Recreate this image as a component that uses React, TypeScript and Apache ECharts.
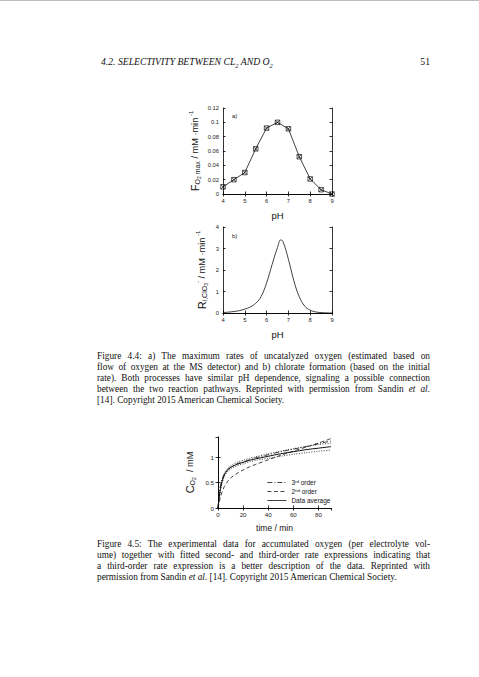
import React, { useEffect, useRef } from "react"
import * as echarts from "echarts"

// a) max O2 rate vs pH (square markers)
const phA = [4, 4.5, 5, 5.5, 6, 6.5, 7, 7.5, 8, 8.5, 9]
const o2MaxRate = [0.01, 0.02, 0.03, 0.063, 0.092, 0.1, 0.091, 0.052, 0.021, 0.006, 0.0]

// b) chlorate formation rate vs pH (smooth curve)
const phB = [4, 4.25, 4.5, 4.75, 5, 5.25, 5.5, 5.75, 6, 6.25, 6.5, 6.65, 6.75, 7, 7.25, 7.5, 7.75, 8, 8.25, 8.5, 9]
const chlorateRate = [0.02, 0.04, 0.07, 0.11, 0.18, 0.28, 0.45, 0.77, 1.4, 2.25, 3.05, 3.4, 3.33, 2.5, 1.5, 0.75, 0.32, 0.13, 0.05, 0.02, 0.0]

// c) accumulated oxygen vs time
const timeMin = [0, 1, 2, 3, 5, 7, 10, 15, 20, 25, 30, 40, 50, 60, 70, 80, 90]
const dataAverage = [0, 0.22, 0.38, 0.5, 0.65, 0.73, 0.8, 0.86, 0.9, 0.94, 0.97, 1.02, 1.07, 1.11, 1.15, 1.18, 1.21]
const dataUpper = [0, 0.24, 0.41, 0.53, 0.68, 0.76, 0.83, 0.9, 0.94, 0.98, 1.01, 1.07, 1.12, 1.17, 1.21, 1.25, 1.28]
const dataLower = [0, 0.2, 0.35, 0.47, 0.62, 0.7, 0.77, 0.83, 0.87, 0.91, 0.94, 0.98, 1.02, 1.06, 1.09, 1.12, 1.14]
const thirdOrder = [0, 0.3, 0.45, 0.55, 0.67, 0.74, 0.8, 0.87, 0.91, 0.95, 0.99, 1.05, 1.11, 1.16, 1.21, 1.27, 1.32]
const secondOrder = [0, 0.12, 0.22, 0.3, 0.42, 0.5, 0.59, 0.68, 0.75, 0.81, 0.86, 0.95, 1.04, 1.12, 1.2, 1.28, 1.37]

const legendNames = ["3rd order", "2nd order", "Data average"]

const caption44 = [
  "Figure 4.4: a) The maximum rates of uncatalyzed oxygen (estimated based on",
  "flow of oxygen at the MS detector) and b) chlorate formation (based on the initial",
  "rate). Both processes have similar pH dependence, signaling a possible connection",
  "between the two reaction pathways. Reprinted with permission from Sandin |et al.|",
  "[14]. Copyright 2015 American Chemical Society.",
]
const caption45 = [
  "Figure 4.5: The experimental data for accumulated oxygen (per electrolyte vol-",
  "ume) together with fitted second- and third-order rate expressions indicating that",
  "a third-order rate expression is a better description of the data.  Reprinted with",
  "permission from Sandin |et al.| [14]. Copyright 2015 American Chemical Society.",
]

const SANS = "Liberation Sans"
const SERIF = "Liberation Serif"
const BOX = "path://M0,0H10V10H0Z M0,0L10,10 M10,0L0,10"

const pairs = (xs: number[], ys: number[]) => xs.map((x, i) => [x, ys[i]])

const nameRich = {
  m: { fontSize: 11, lineHeight: 13, fontFamily: SANS, color: "#111" },
  n: { fontSize: 9.2, lineHeight: 13, fontFamily: SANS, color: "#111" },
  s: { fontSize: 7, lineHeight: 6, verticalAlign: "bottom", fontFamily: SANS, color: "#111" },
  ss: { fontSize: 5, lineHeight: 3, verticalAlign: "bottom", fontFamily: SANS, color: "#111" },
  sup: { fontSize: 6, lineHeight: 6, verticalAlign: "top", fontFamily: SANS, color: "#111" },
}

const label = { fontSize: 5.8, fontFamily: SANS, color: "#222", margin: 4 }
const line = { lineStyle: { color: "#000", width: 0.8 } }

function axisPair(grid: number, min: number, max: number, interval: number, extra: any = {}) {
  const main = {
    type: "value",
    gridIndex: grid,
    min,
    max,
    interval,
    axisLine: { show: true, ...line },
    axisTick: { show: true, inside: true, length: 2.5, ...line },
    splitLine: { show: false },
    axisLabel: { ...label },
    ...extra,
  }
  const mirror = {
    type: "value",
    gridIndex: grid,
    min,
    max,
    interval,
    axisLine: { show: true, ...line },
    axisTick: { show: true, inside: true, length: 2.5, ...line },
    splitLine: { show: false },
    axisLabel: { show: false },
  }
  return [main, mirror]
}

function Caption({ lines, top }: { lines: string[]; top: number }) {
  return (
    <div style={{ position: "absolute", left: 97, top, width: 333, fontFamily: SERIF, fontSize: 9.3, lineHeight: "11px", color: "#111" }}>
      {lines.map((l, i) => (
        <div
          key={i}
          style={{
            whiteSpace: "nowrap",
            textAlign: "justify",
            textAlignLast: i === lines.length - 1 ? "left" : "justify",
          }}
        >
          {l.split("|").map((part, j) => (j % 2 === 1 ? <i key={j}>{part}</i> : <span key={j}>{part}</span>))}
        </div>
      ))}
    </div>
  )
}

export default function App() {
  const ref = useRef<HTMLDivElement>(null)

  useEffect(() => {
    if (!ref.current) return
    const chart = echarts.init(ref.current, undefined, { renderer: "svg" })

    const phName = { name: "pH", nameLocation: "middle", nameGap: 16, nameTextStyle: { fontSize: 9.5, fontFamily: SANS, color: "#111" } }
    const xa = axisPair(0, 4, 9, 1, phName)
    const xb = axisPair(1, 4, 9, 1, phName)
    const xc = axisPair(2, 0, 90, 20, {
      name: "time / min",
      nameLocation: "middle",
      nameGap: 15,
      nameTextStyle: { fontSize: 8.5, fontFamily: SANS, color: "#111" },
      axisLabel: { ...label, fontSize: 6.2, margin: 3, showMaxLabel: false },
    })
    const ya = axisPair(0, 0, 0.12, 0.02, {
      name: "{m|F}{s|O}{ss|2}{s| max}{n| / mM ·min}{sup| -1}",
      nameLocation: "middle",
      nameRotate: 90,
      nameGap: 22,
      nameTextStyle: { rich: nameRich },
    })
    const yb = axisPair(1, 0, 4, 1, {
      name: "{m|R}{s|i,ClO}{ss|3}{sup|-}{n| / mM ·min}{sup| -1}",
      nameLocation: "middle",
      nameRotate: 90,
      nameGap: 15,
      nameTextStyle: { rich: nameRich },
    })
    const yc = axisPair(2, 0, 1.4, 0.5, {
      name: "{m|C}{s|O}{ss|2}{n|  / mM}",
      nameLocation: "middle",
      nameRotate: 90,
      nameGap: 22,
      nameTextStyle: { rich: nameRich },
      axisLabel: { ...label, fontSize: 6.2, margin: 4, showMaxLabel: false },
    })

    const xAxes = [xa, xb, xc].flatMap(([m, mi]) => [{ ...m, position: "bottom" }, { ...mi, position: "top" }])
    const yAxes = [ya, yb, yc].flatMap(([m, mi]) => [{ ...m, position: "left" }, { ...mi, position: "right" }])

    const lineSeries = (name: string, xs: number[], ys: number[], type: any, width = 0.8) => ({
      name,
      type: "line",
      xAxisIndex: 4,
      yAxisIndex: 4,
      data: pairs(xs, ys),
      symbol: "none",
      smooth: 0.3,
      itemStyle: { color: "#111" },
      lineStyle: { color: "#111", width, type },
    })

    chart.setOption({
      animation: false,
      backgroundColor: "transparent",
      grid: [
        { left: 223, top: 108, width: 109, height: 86 },
        { left: 223, top: 227, width: 109, height: 86 },
        { left: 218, top: 437, width: 113, height: 71 },
      ],
      xAxis: xAxes,
      yAxis: yAxes,
      legend: {
        data: legendNames,
        orient: "vertical",
        left: 262,
        top: 474,
        itemGap: 2,
        itemWidth: 19,
        itemHeight: 6,
        itemStyle: { color: "transparent", borderColor: "transparent", borderWidth: 0, opacity: 0 },
        lineStyle: { width: 0.8 },
        textStyle: {
          fontSize: 6.5,
          fontFamily: SANS,
          color: "#111",
          rich: { sup: { fontSize: 4.4, verticalAlign: "top", lineHeight: 4, fontFamily: SANS, color: "#111" } },
        },
        formatter: (name: string) =>
          name === "3rd order" ? "3{sup|rd} order" : name === "2nd order" ? "2{sup|nd} order" : name,
      },
      graphic: [
        { type: "text", left: 232, top: 113, style: { text: "a)", fontSize: 5.8, fontFamily: SANS, fill: "#111" } },
        { type: "text", left: 232, top: 233, style: { text: "b)", fontSize: 5.8, fontFamily: SANS, fill: "#111" } },
      ],
      series: [
        {
          type: "line",
          xAxisIndex: 0,
          yAxisIndex: 0,
          data: pairs(phA, o2MaxRate),
          symbol: BOX,
          symbolSize: 4.5,
          itemStyle: { color: "transparent", borderColor: "#111", borderWidth: 0.7 },
          lineStyle: { color: "#111", width: 0.8 },
        },
        {
          type: "line",
          xAxisIndex: 2,
          yAxisIndex: 2,
          data: pairs(phB, chlorateRate),
          symbol: "none",
          smooth: 0.4,
          lineStyle: { color: "#111", width: 0.8 },
        },
        lineSeries("upper", timeMin, dataUpper, [1, 1.5]),
        lineSeries("lower", timeMin, dataLower, [1, 1.5]),
        lineSeries("3rd order", timeMin, thirdOrder, [5, 2, 1, 2]),
        lineSeries("2nd order", timeMin, secondOrder, [4, 2.5]),
        lineSeries("Data average", timeMin, dataAverage, "solid", 1),
      ],
    })

    return () => chart.dispose()
  }, [])

  return (
    <div style={{ position: "fixed", left: 0, top: 0, width: 479, height: 677, background: "#fff", overflow: "hidden" }}>
      <div style={{ position: "absolute", left: 0, top: 0, width: 479, height: 1, background: "#bbb" }} />
      <div ref={ref} style={{ position: "absolute", left: 0, top: 0, width: 479, height: 677 }} />
      <div style={{ position: "absolute", left: 101, top: 56, fontFamily: SERIF, fontStyle: "italic", fontSize: 9.7, color: "#111", whiteSpace: "nowrap" }}>
        4.2. SELECTIVITY BETWEEN CL<sub style={{ fontSize: 6.5 }}>2</sub> AND O<sub style={{ fontSize: 6.5 }}>2</sub>
      </div>
      <div style={{ position: "absolute", right: 49, top: 56, fontFamily: SERIF, fontSize: 9.7, color: "#111" }}>51</div>
      <Caption lines={caption44} top={351} />
      <Caption lines={caption45} top={539} />
    </div>
  )
}
